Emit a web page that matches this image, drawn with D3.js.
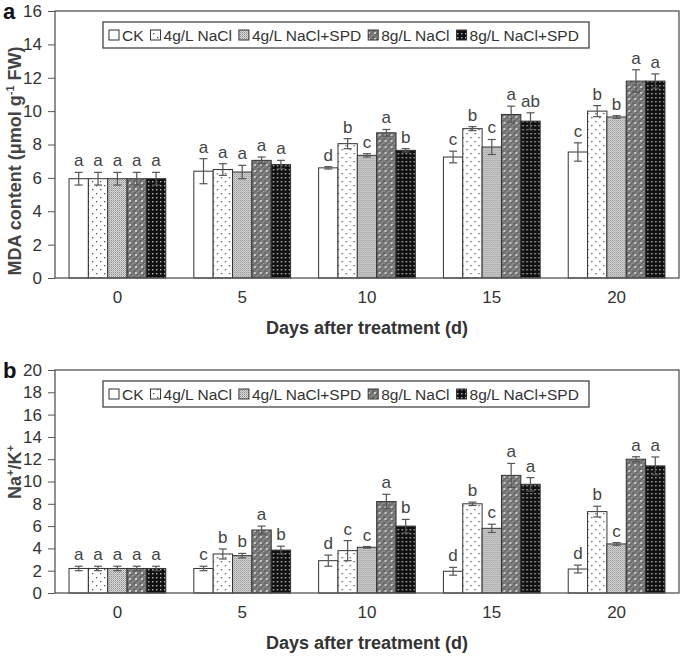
<!DOCTYPE html>
<html><head><meta charset="utf-8">
<script src="https://cdn.jsdelivr.net/npm/d3@7"></script>
<style>body{margin:0;background:#fff}svg{display:block;font-family:"Liberation Sans",Arial,sans-serif}</style>
</head><body><svg id="c" width="685" height="658"></svg>
<script>
const days = ["0","5","10","15","20"];
const series = ["CK","4g/L NaCl","4g/L NaCl+SPD","8g/L NaCl","8g/L NaCl+SPD"];
// rows = days, columns = series
const mdaMeans = [[5.95,5.95,5.95,5.95,5.95],[6.4,6.5,6.35,7.05,6.8],[6.6,8.05,7.35,8.7,7.65],[7.25,8.95,7.85,9.8,9.4],[7.55,10.0,9.65,11.8,11.8]];
const mdaErrors = [[0.38,0.38,0.38,0.38,0.38],[0.75,0.35,0.4,0.2,0.25],[0.07,0.3,0.1,0.2,0.1],[0.35,0.12,0.45,0.5,0.5],[0.55,0.33,0.08,0.68,0.43]];
const mdaLetters = [["a","a","a","a","a"],["a","a","a","a","a"],["d","b","c","a","b"],["c","b","c","a","ab"],["c","b","b","a","a"]];
const nakMeans = [[2.2,2.2,2.2,2.2,2.2],[2.2,3.5,3.35,5.65,3.85],[2.9,3.8,4.1,8.2,6.0],[1.95,8.0,5.8,10.55,9.75],[2.15,7.3,4.4,12.0,11.4]];
const nakErrors = [[0.2,0.2,0.2,0.2,0.2],[0.2,0.45,0.2,0.35,0.35],[0.5,0.9,0.07,0.65,0.6],[0.35,0.15,0.37,1.07,0.6],[0.35,0.48,0.12,0.22,0.8]];
const nakLetters = [["a","a","a","a","a"],["c","b","b","a","b"],["d","c","c","a","b"],["d","b","c","a","a"],["d","b","c","a","a"]];
const mdaTicks = [0,2,4,6,8,10,12,14,16];
const nakTicks = [0,2,4,6,8,10,12,14,16,18,20];

const svg = d3.select("#c");
const defs = svg.append("defs");
// patterns
(function(){
  let p = defs.append("pattern").attr("id","p0").attr("width",4).attr("height",4).attr("patternUnits","userSpaceOnUse");
  p.append("rect").attr("width",4).attr("height",4).attr("fill","#fff");
  p = defs.append("pattern").attr("id","p1").attr("width",8).attr("height",8).attr("patternUnits","userSpaceOnUse");
  p.append("rect").attr("width",8).attr("height",8).attr("fill","#fff");
  p.append("rect").attr("x",1).attr("y",1).attr("width",1.3).attr("height",1.3).attr("fill","#555");
  p.append("rect").attr("x",5).attr("y",5).attr("width",1.3).attr("height",1.3).attr("fill","#555");
  p = defs.append("pattern").attr("id","p2").attr("width",2).attr("height",2).attr("patternUnits","userSpaceOnUse");
  p.append("rect").attr("width",2).attr("height",2).attr("fill","#dadada");
  p.append("rect").attr("width",1).attr("height",1).attr("fill","#8c8c8c");
  p.append("rect").attr("x",1).attr("y",1).attr("width",1).attr("height",1).attr("fill","#b0b0b0");
  p = defs.append("pattern").attr("id","p3").attr("width",6).attr("height",6).attr("patternUnits","userSpaceOnUse");
  p.append("rect").attr("width",6).attr("height",6).attr("fill","#808080");
  p.append("rect").attr("x",0).attr("y",0).attr("width",3).attr("height",3).attr("fill","#6a6a6a");
  p.append("rect").attr("x",3).attr("y",3).attr("width",3).attr("height",3).attr("fill","#6a6a6a");
  p.append("rect").attr("x",2).attr("y",2).attr("width",2).attr("height",2).attr("fill","#cdcdcd");
  p.append("rect").attr("x",5).attr("y",5).attr("width",1).attr("height",1).attr("fill","#a5a5a5");
  p = defs.append("pattern").attr("id","p4").attr("width",4).attr("height",4).attr("patternUnits","userSpaceOnUse");
  p.append("rect").attr("width",4).attr("height",4).attr("fill","#111");
  p.append("rect").attr("x",1).attr("y",1).attr("width",1.4).attr("height",1.4).attr("fill","#bbb");
})();
const fills = ["url(#p0)","url(#p1)","url(#p2)","url(#p3)","url(#p4)"];
const color = d3.scaleOrdinal().domain(series).range(fills);

const left = 55, right = 679;
const x0 = d3.scaleBand().domain(days).range([left,right]).padding(0);
const x1 = d3.scaleBand().domain(series).range([0,x0.bandwidth()]).paddingInner(0).paddingOuter(0.725);

const panels = [
  {top:11,bottom:278,ticks:mdaTicks,means:mdaMeans,errs:mdaErrors,letters:mdaLetters,label:"a",ytitle:"mda",ymid:161},
  {top:370,bottom:593,ticks:nakTicks,means:nakMeans,errs:nakErrors,letters:nakLetters,label:"b",ytitle:"nak",ymid:472}
];
const axisColor = "#555", textColor = "#333";

panels.forEach(P=>{
  const g = svg.append("g");
  const y = d3.scaleLinear().domain([0, d3.max(P.ticks)]).range([P.bottom,P.top]);
  // y axis
  const ya = g.append("g").attr("transform",`translate(${left},0)`)
    .call(d3.axisLeft(y).tickValues(P.ticks).tickSize(7).tickPadding(6));
  ya.select(".domain").remove();
  ya.selectAll("line").attr("stroke",axisColor);
  ya.selectAll("text").attr("font-size",17).attr("fill",textColor).attr("font-family","Liberation Sans, Arial, sans-serif");
  // x axis labels
  const xa = g.append("g").attr("transform",`translate(0,${P.bottom})`)
    .call(d3.axisBottom(x0).tickSize(0).tickPadding(13));
  xa.select(".domain").remove();
  xa.selectAll("text").attr("font-size",17).attr("fill",textColor).attr("font-family","Liberation Sans, Arial, sans-serif");
  // bars
  const grp = g.selectAll(".grp").data(days).join("g").attr("class","grp")
    .attr("transform",d=>`translate(${x0(d)},0)`);
  const items = (d,i)=>series.map((s,j)=>({s, v:P.means[i][j], e:P.errs[i][j], l:P.letters[i][j]}));
  grp.each(function(d,i){
    const gg = d3.select(this);
    const data = items(d,i);
    gg.selectAll("rect.bar").data(data).join("rect").attr("class","bar")
      .attr("x",o=>x1(o.s)).attr("width",x1.bandwidth())
      .attr("y",o=>y(o.v)).attr("height",o=>P.bottom-y(o.v))
      .attr("fill",o=>color(o.s)).attr("stroke","#333").attr("stroke-width",1);
    const cx = o=>x1(o.s)+x1.bandwidth()/2;
    gg.selectAll("line.eb").data(data).join("line").attr("class","eb")
      .attr("x1",cx).attr("x2",cx).attr("y1",o=>y(o.v+o.e)).attr("y2",o=>y(o.v-o.e))
      .attr("stroke","#555").attr("stroke-width",1.2);
    gg.selectAll("line.ct").data(data).join("line").attr("class","ct")
      .attr("x1",o=>cx(o)-4).attr("x2",o=>cx(o)+4).attr("y1",o=>y(o.v+o.e)).attr("y2",o=>y(o.v+o.e))
      .attr("stroke","#555").attr("stroke-width",1.2);
    gg.selectAll("line.cb").data(data).join("line").attr("class","cb")
      .attr("x1",o=>cx(o)-4).attr("x2",o=>cx(o)+4).attr("y1",o=>y(o.v-o.e)).attr("y2",o=>y(o.v-o.e))
      .attr("stroke","#555").attr("stroke-width",1.2);
    gg.selectAll("text.lt").data(data).join("text").attr("class","lt")
      .attr("x",cx).attr("y",o=>y(o.v+o.e)-6).attr("text-anchor","middle")
      .attr("font-size",17).attr("fill","#444").text(o=>o.l);
  });
  // frame
  g.append("rect").attr("x",left).attr("y",P.top).attr("width",right-left).attr("height",P.bottom-P.top)
    .attr("fill","none").attr("stroke",axisColor).attr("stroke-width",1.3);
  // x title
  g.append("text").attr("x",(left+right)/2).attr("y",P.bottom+56).attr("text-anchor","middle")
    .attr("font-size",18).attr("font-weight","bold").attr("fill",textColor).text("Days after treatment (d)");
  // y title
  const yt = g.append("text").attr("transform",`translate(21,${P.ymid}) rotate(-90)`)
    .attr("text-anchor","middle").attr("font-size",18).attr("font-weight","bold").attr("fill","#444");
  if(P.ytitle==="mda"){
    yt.append("tspan").text("MDA content (μmol g");
    yt.append("tspan").attr("font-size",11).attr("dy",-7).text("-1");
    yt.append("tspan").attr("dy",7).text(" FW)");
  } else {
    yt.append("tspan").text("Na");
    yt.append("tspan").attr("font-size",11).attr("dy",-7).text("+");
    yt.append("tspan").attr("dy",7).text("/K");
    yt.append("tspan").attr("font-size",11).attr("dy",-7).text("+");
  }
  // panel label
  g.append("text").attr("x",3).attr("y",P.top+8).attr("font-size",22).attr("font-weight","bold").attr("fill","#111").text(P.label);
  // legend
  const lg = g.append("g");
  const lx = 103, ly = P.top+11, lw = 486, lh = 26;
  lg.append("rect").attr("x",lx).attr("y",ly).attr("width",lw).attr("height",lh).attr("fill","#fff").attr("stroke","#444").attr("stroke-width",1.3);
  let cur = lx+6;
  series.forEach((s,j)=>{
    lg.append("rect").attr("x",cur).attr("y",ly+8).attr("width",10).attr("height",10).attr("fill",color(s)).attr("stroke","#333");
    const t = lg.append("text").attr("x",cur+13).attr("y",ly+19).attr("font-size",15.5).attr("fill",textColor).text(s);
    cur += 13 + t.node().getComputedTextLength() + 7;
  });
});
</script></body></html>
